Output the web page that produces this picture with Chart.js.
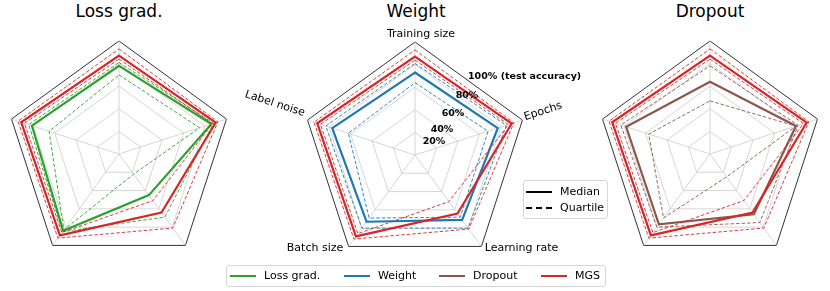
<!DOCTYPE html>
<html lang="en">
  <head>
    <meta charset="UTF-8" />
    <title>Radar charts - Loss grad. / Weight / Dropout</title>
    <style>
      body {
        margin: 0;
        width: 830px;
        height: 291px;
        position: relative;
        background: #fff;
        font-family: "DejaVu Sans", sans-serif;
        overflow: hidden;
      }

      canvas {
        position: absolute;
      }

      .title {
        position: absolute;
        top: 1px;
        font-size: 17px;
        transform: translateX(-50%);
        white-space: nowrap;
      }

      .legend {
        position: absolute;
        background: rgba(255, 255, 255, 0.8);
        border: 1px solid #d6d6d6;
        border-radius: 3px;
        font-size: 11px;
        z-index: 5;
      }

      .item {
        position: absolute;
        white-space: nowrap;
        line-height: 13px;
      }

      .swatch {
        position: absolute;
        width: 26px;
        height: 0;
      }
    </style>
    <script src="https://cdn.jsdelivr.net/npm/chart.js"></script>
  </head>
  <body>
    <div class="title" style="left: 119px">Loss grad.</div>
    <div class="title" style="left: 416px">Weight</div>
    <div class="title" style="left: 710px">Dropout</div>

    <canvas id="lossChart" width="240" height="245" style="left: 0; top: 25px"></canvas>
    <canvas id="weightChart" width="370" height="245" style="left: 230px; top: 25px"></canvas>
    <canvas id="dropoutChart" width="240" height="245" style="left: 590px; top: 25px"></canvas>

    <div class="legend" style="left: 523px; top: 180px; width: 83px; height: 37px">
      <div class="swatch" style="left: 2px; top: 10px; border-top: 2.2px solid #000"></div>
      <div class="item" style="left: 36px; top: 4px">Median</div>
      <div class="swatch" style="left: 2px; top: 26px; border-top: 2.2px dashed #000"></div>
      <div class="item" style="left: 36px; top: 20px">Quartile</div>
    </div>

    <div class="legend" style="left: 226px; top: 265px; width: 378px; height: 20px">
      <div class="swatch" style="left: 3px; top: 9px; border-top: 2.2px solid #2ca02c"></div>
      <div class="item" style="left: 37px; top: 3px">Loss grad.</div>
      <div class="swatch" style="left: 117px; top: 9px; border-top: 2.2px solid #1f77b4"></div>
      <div class="item" style="left: 151px; top: 3px">Weight</div>
      <div class="swatch" style="left: 212px; top: 9px; border-top: 2.2px solid #8c564b"></div>
      <div class="item" style="left: 246px; top: 3px">Dropout</div>
      <div class="swatch" style="left: 314px; top: 9px; border-top: 2.2px solid #d62728"></div>
      <div class="item" style="left: 348px; top: 3px">MGS</div>
    </div>

    <script>
      // axes, clockwise from the top
      const axes = ["Training size", "Epochs", "Learning rate", "Batch size", "Label noise"];
      const tickLabels = ["20%", "40%", "60%", "80%", "100% (test accuracy)"];

      // test accuracy (%)
      const mgsMedian = [87, 90, 64, 89, 91];
      const mgsQ1 = [84, 87, 51, 86, 88];
      const mgsQ3 = [93, 92, 81, 92, 94];

      const lossMedian = [78, 86, 45, 84, 81];
      const lossQ1 = [70, 75, 22, 83, 65];
      const lossQ3 = [81, 88, 69, 85, 84];

      const weightMedian = [73, 77, 71, 73, 77];
      const weightQ1 = [64, 68, 68, 69, 62];
      const weightQ3 = [81, 85, 80, 80, 83];

      const dropoutMedian = [64, 80, 66, 77, 78];
      const dropoutQ1 = [47, 80, 25, 70, 57];
      const dropoutQ3 = [78, 82, 75, 80, 83];

      Chart.defaults.font.family = "'DejaVu Sans', sans-serif";

      function series(color, median, q1, q3) {
        return [
          { data: median, borderColor: color, borderWidth: 2.2 },
          { data: q1, borderColor: color, borderWidth: 0.9, borderDash: [3.5, 2] },
          { data: q3, borderColor: color, borderWidth: 0.9, borderDash: [3.5, 2] },
        ];
      }

      // point labels and radial tick labels, only on the middle panel
      const weightLabels = {
        id: "weightLabels",
        afterDraw(chart) {
          const s = chart.scales.r;
          const ctx = chart.ctx;
          const r = s.drawingArea;
          ctx.save();
          ctx.fillStyle = "#000";
          ctx.font = "11px 'DejaVu Sans'";
          ctx.textBaseline = "middle";

          let p = s.getPointPosition(0, r + 8);
          ctx.textAlign = "center";
          ctx.fillText(axes[0], p.x + 6, p.y);

          p = s.getPointPosition(1, r + 2);
          ctx.save();
          ctx.translate(p.x, p.y - 2);
          ctx.rotate((-18 * Math.PI) / 180);
          ctx.textAlign = "left";
          ctx.fillText(axes[1], 0, 0);
          ctx.restore();

          p = s.getPointPosition(2, r + 4);
          ctx.textAlign = "left";
          ctx.fillText(axes[2], p.x + 1, p.y - 2);

          p = s.getPointPosition(3, r + 4);
          ctx.textAlign = "right";
          ctx.fillText(axes[3], p.x - 3, p.y - 2);

          p = s.getPointPosition(4, r + 2);
          ctx.save();
          ctx.translate(p.x - 1, p.y - 6);
          ctx.rotate((18 * Math.PI) / 180);
          ctx.textAlign = "right";
          ctx.fillText(axes[4], 0, 0);
          ctx.restore();

          // radial tick labels, along a ray between the top and "Epochs"
          ctx.font = "bold 9.5px 'DejaVu Sans'";
          const offsets = [
            [19, -13],
            [27, -25],
            [38, -41],
            [52, -59],
          ];
          ctx.textAlign = "center";
          offsets.forEach((o, i) => {
            ctx.fillText(tickLabels[i], s.xCenter + o[0], s.yCenter + o[1]);
          });
          ctx.textAlign = "left";
          ctx.fillText(tickLabels[4], s.xCenter + 53, s.yCenter - 78);
          ctx.restore();
        },
      };

      function radar(id, color, median, q1, q3, padding, plugins) {
        new Chart(document.getElementById(id).getContext("2d"), {
          type: "radar",
          data: {
            labels: axes,
            datasets: [...series("#d62728", mgsMedian, mgsQ1, mgsQ3), ...series(color, median, q1, q3)],
          },
          options: {
            responsive: false,
            animation: false,
            layout: { padding: padding },
            elements: {
              line: { tension: 0, fill: false },
              point: { radius: 0, hoverRadius: 0 },
            },
            plugins: {
              legend: { display: false },
              tooltip: { enabled: false },
            },
            scales: {
              r: {
                min: 0,
                max: 100,
                ticks: { display: false, stepSize: 20 },
                pointLabels: { display: false },
                angleLines: { color: "#cccccc", lineWidth: 0.8 },
                grid: {
                  color: (c) => (c.tick && c.tick.value === 100 ? "#333333" : "#cccccc"),
                  lineWidth: (c) => (c.tick && c.tick.value === 100 ? 1 : 0.8),
                },
              },
            },
          },
          plugins: plugins || [],
        });
      }

      radar("lossChart", "#2ca02c", lossMedian, lossQ1, lossQ3, { left: 6, right: 8, top: 16, bottom: 3 });
      radar("weightChart", "#1f77b4", weightMedian, weightQ1, weightQ3, { left: 72, right: 72, top: 17, bottom: 2 }, [weightLabels]);
      radar("dropoutChart", "#8c564b", dropoutMedian, dropoutQ1, dropoutQ3, { left: 7, right: 7, top: 16, bottom: 3 });
    </script>
  </body>
</html>
